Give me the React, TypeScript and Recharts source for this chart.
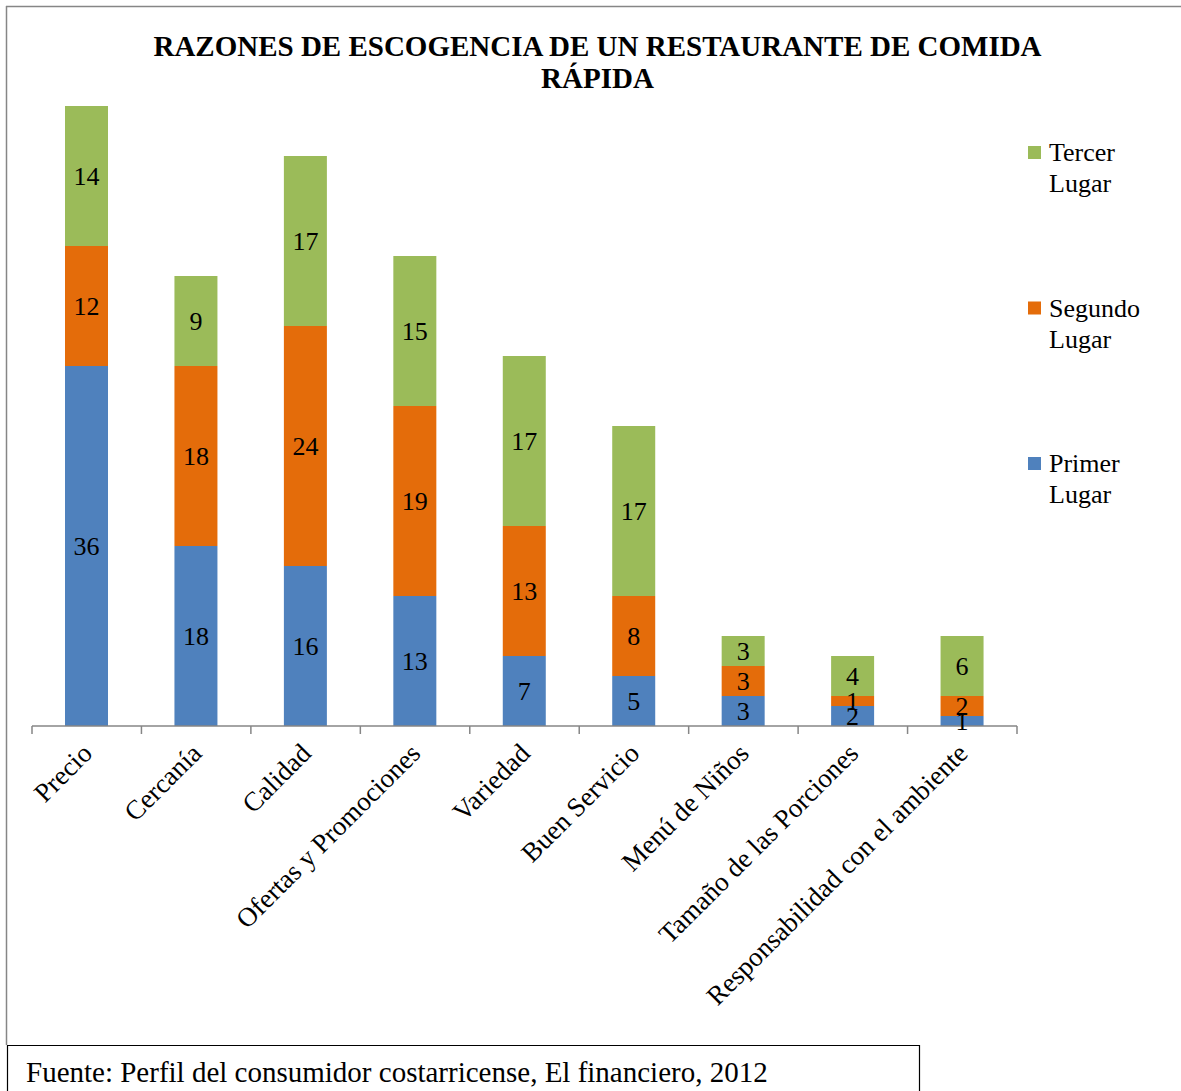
import React from "react";
import { BarChart, Bar, XAxis, YAxis, LabelList } from "recharts";

const categories = [
  "Precio",
  "Cercanía",
  "Calidad",
  "Ofertas y Promociones",
  "Variedad",
  "Buen Servicio",
  "Menú de Niños",
  "Tamaño de las Porciones",
  "Responsabilidad con el ambiente",
];
const primerLugar = [36, 18, 16, 13, 7, 5, 3, 2, 1];
const segundoLugar = [12, 18, 24, 19, 13, 8, 3, 1, 2];
const tercerLugar = [14, 9, 17, 15, 17, 17, 3, 4, 6];

const seriesInfo = [
  { key: "tercer", name: "Tercer", color: "#9BBB59" },
  { key: "segundo", name: "Segundo", color: "#E46C0A" },
  { key: "primer", name: "Primer", color: "#4F81BD" },
];

const titleLines = ["RAZONES DE ESCOGENCIA DE UN RESTAURANTE DE COMIDA", "RÁPIDA"];
const sourceText = "Fuente: Perfil del consumidor costarricense, El financiero, 2012";

const data = categories.map((c, i) => ({
  name: c,
  primer: primerLugar[i],
  segundo: segundoLugar[i],
  tercer: tercerLugar[i],
}));

const W = 1181;
const H = 1091;
const FONT = "'Liberation Serif', 'Times New Roman', serif";
const PLOT_LEFT = 32;
const PLOT_RIGHT = 1017;
const HALF_BAND = (PLOT_RIGHT - PLOT_LEFT) / categories.length / 2;

const CatTick = (props: any) => {
  const { x, y, payload, index } = props;
  const ax = x + 7;
  const ay = y + 29;
  return (
    <g>
      <line x1={x - HALF_BAND} y1={y} x2={x - HALF_BAND} y2={y + 8} stroke="#868686" strokeWidth={1.5} />
      {index === categories.length - 1 && (
        <line x1={x + HALF_BAND} y1={y} x2={x + HALF_BAND} y2={y + 8} stroke="#868686" strokeWidth={1.5} />
      )}
      <text
        x={ax}
        y={ay}
        textAnchor="end"
        transform={`rotate(-45 ${ax} ${ay})`}
        fontSize={27}
        fontFamily={FONT}
        fill="#000"
      >
        {payload.value}
      </text>
    </g>
  );
};

export default function App() {
  return (
    <div style={{ position: "absolute", left: 0, top: 0, width: W, height: H, background: "#fff" }}>
      <BarChart
        width={W}
        height={H}
        data={data}
        margin={{ top: 26, right: W - PLOT_RIGHT, bottom: 65, left: PLOT_LEFT }}
      >
        <YAxis hide domain={[0, 70]} type="number" />
        <XAxis
          dataKey="name"
          interval={0}
          height={300}
          tickLine={false}
          tickSize={0}
          tickMargin={0}
          axisLine={{ stroke: "#868686", strokeWidth: 1.5 }}
          tick={<CatTick />}
        />
        <Bar dataKey="primer" stackId="a" fill="#4F81BD" barSize={43} isAnimationActive={false}>
          <LabelList dataKey="primer" position="center" fill="#000" fontSize={26} fontFamily={FONT} />
        </Bar>
        <Bar dataKey="segundo" stackId="a" fill="#E46C0A" barSize={43} isAnimationActive={false}>
          <LabelList dataKey="segundo" position="center" fill="#000" fontSize={26} fontFamily={FONT} />
        </Bar>
        <Bar dataKey="tercer" stackId="a" fill="#9BBB59" barSize={43} isAnimationActive={false}>
          <LabelList dataKey="tercer" position="center" fill="#000" fontSize={26} fontFamily={FONT} />
        </Bar>
      </BarChart>
      <svg
        width={W}
        height={H}
        style={{ position: "absolute", left: 0, top: 0, pointerEvents: "none" }}
      >
        <line x1={6} y1={6.5} x2={W} y2={6.5} stroke="#868686" strokeWidth={1.5} />
        <line x1={6.5} y1={6} x2={6.5} y2={1045} stroke="#868686" strokeWidth={1.5} />
        <text x={597.5} y={56} textAnchor="middle" fontSize={29} fontWeight="bold" fontFamily={FONT} fill="#000">
          {titleLines[0]}
        </text>
        <text x={597.5} y={88} textAnchor="middle" fontSize={29} fontWeight="bold" fontFamily={FONT} fill="#000">
          {titleLines[1]}
        </text>
        {seriesInfo.map((s, i) => (
          <g key={s.key}>
            <rect x={1028} y={146 + i * 155.5} width={13} height={13} fill={s.color} />
            <text x={1049} y={161 + i * 155.5} fontSize={26} fontFamily={FONT} fill="#000">
              {s.name}
            </text>
            <text x={1049} y={192 + i * 155.5} fontSize={26} fontFamily={FONT} fill="#000">
              Lugar
            </text>
          </g>
        ))}
        <path d="M7.5 1092 L7.5 1045.5 L919.5 1045.5 L919.5 1092" fill="none" stroke="#000" strokeWidth={1.2} />
        <text x={26} y={1082} fontSize={29} fontFamily={FONT} fill="#000">
          {sourceText}
        </text>
      </svg>
    </div>
  );
}
